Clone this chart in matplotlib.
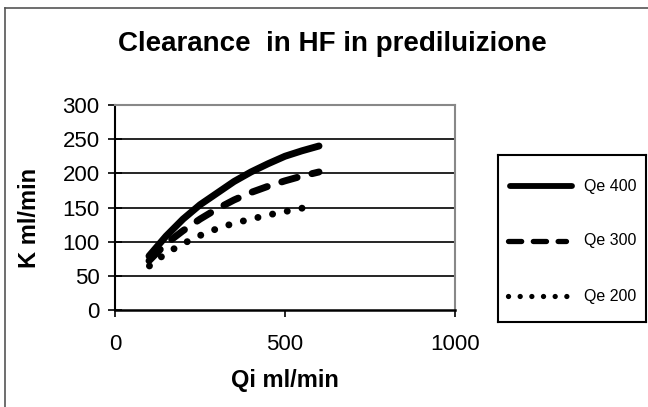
import matplotlib
matplotlib.use("Agg")
import matplotlib.pyplot as plt
from matplotlib.lines import Line2D

plt.rcParams['font.family'] = ['Liberation Sans', 'DejaVu Sans']

title = "Clearance  in HF in prediluizione"
xlabel = "Qi ml/min"
ylabel = "K ml/min"

qi_400 = [100, 150, 200, 250, 300, 350, 400, 450, 500, 550, 600]
k_400 = [79, 108, 133, 154, 171, 188, 202, 214, 225, 233, 240]
qi_300 = [100, 150, 200, 250, 300, 350, 400, 450, 500, 550, 600]
k_300 = [72, 97, 116, 133, 148, 161, 172, 181, 189, 196, 202]
qi_200 = [100, 150, 200, 250, 300, 350, 400, 450, 500, 550]
k_200 = [64, 83, 97, 109, 119, 127, 133, 139, 144, 149]
labels = ["Qe 400", "Qe 300", "Qe 200"]

xticks = [0, 500, 1000]
yticks = [0, 50, 100, 150, 200, 250, 300]

DASH = (0, (2.3, 2.2))
DOT = (0, (0.01, 2.15))
DASH_LEG = (0, (2.5, 2.2))
DOT_LEG = (0, (0.01, 2.2))

W, H = 648, 407
fig = plt.figure(figsize=(W / 100, H / 100), dpi=100)
ax = fig.add_axes([115 / W, 1 - 310 / H, (455 - 115) / W, (310 - 105) / H])

ax.plot(qi_400, k_400, color='black', lw=5, solid_capstyle='round', solid_joinstyle='round')
ax.plot(qi_300, k_300, color='black', lw=5, linestyle=DASH, dash_capstyle='round')
# drawn from the far end so that the last dot sits on the end point
ax.plot(qi_200[::-1], k_200[::-1], color='black', lw=5, linestyle=DOT, dash_capstyle='round')

ax.set_xlim(0, 1000)
ax.set_ylim(0, 300)
ax.set_xticks(xticks)
ax.set_yticks(yticks)
for y in yticks[1:-1]:
    ax.axhline(y, color='black', lw=1.2, zorder=0)

ax.spines['top'].set_color('#888888')
ax.spines['right'].set_color('#888888')
ax.spines['top'].set_linewidth(1.5)
ax.spines['right'].set_linewidth(1.5)
ax.spines['left'].set_linewidth(1.5)
ax.spines['bottom'].set_linewidth(1.8)
ax.tick_params(axis='y', direction='inout', length=10, width=1.2, labelsize=16, pad=6)
ax.tick_params(axis='x', direction='out', length=5, width=1.2, labelsize=16, pad=12)

fig.text(332 / W, 1 - 44 / H, title, fontsize=20, fontweight='bold', ha='center', va='center')
fig.text(285 / W, 1 - 381 / H, xlabel, fontsize=17, fontweight='bold', ha='center', va='center')
fig.text(29 / W, 1 - 218 / H, ylabel, fontsize=17, fontweight='bold', ha='center', va='center', rotation=90)

# legend box
lax = fig.add_axes([498 / W, 1 - 322 / H, (646 - 498) / W, (322 - 155) / H])
lax.set_xlim(0, 148)
lax.set_ylim(0, 167)
lax.set_xticks([])
lax.set_yticks([])
for s in lax.spines.values():
    s.set_linewidth(1.5)
handles = [
    dict(lw=4.2, ls='-', x0=11.5, x1=74),
    dict(lw=3.8, ls=DASH_LEG, x0=9.5, x1=68),
    dict(lw=3.8, ls=DOT_LEG, x0=10, x1=68.5),
]
ys = [322 - 186, 322 - 241, 322 - 296]
for lab, h, yy in zip(labels, handles, ys):
    lax.add_line(Line2D([h['x0'], h['x1']], [yy, yy], color='black', lw=h['lw'],
                        linestyle=h['ls'], solid_capstyle='round', dash_capstyle='round'))
    lax.text(86, yy, lab, fontsize=11.5, va='center', ha='left')

# figure border (left and top)
fig.add_artist(Line2D([5 / W, 5 / W], [0, 1 - 8 / H], color='#555555', lw=1.2, transform=fig.transFigure))
fig.add_artist(Line2D([5 / W, 1], [1 - 8 / H, 1 - 8 / H], color='#555555', lw=1.2, transform=fig.transFigure))

fig.savefig("out.png", dpi=100)
